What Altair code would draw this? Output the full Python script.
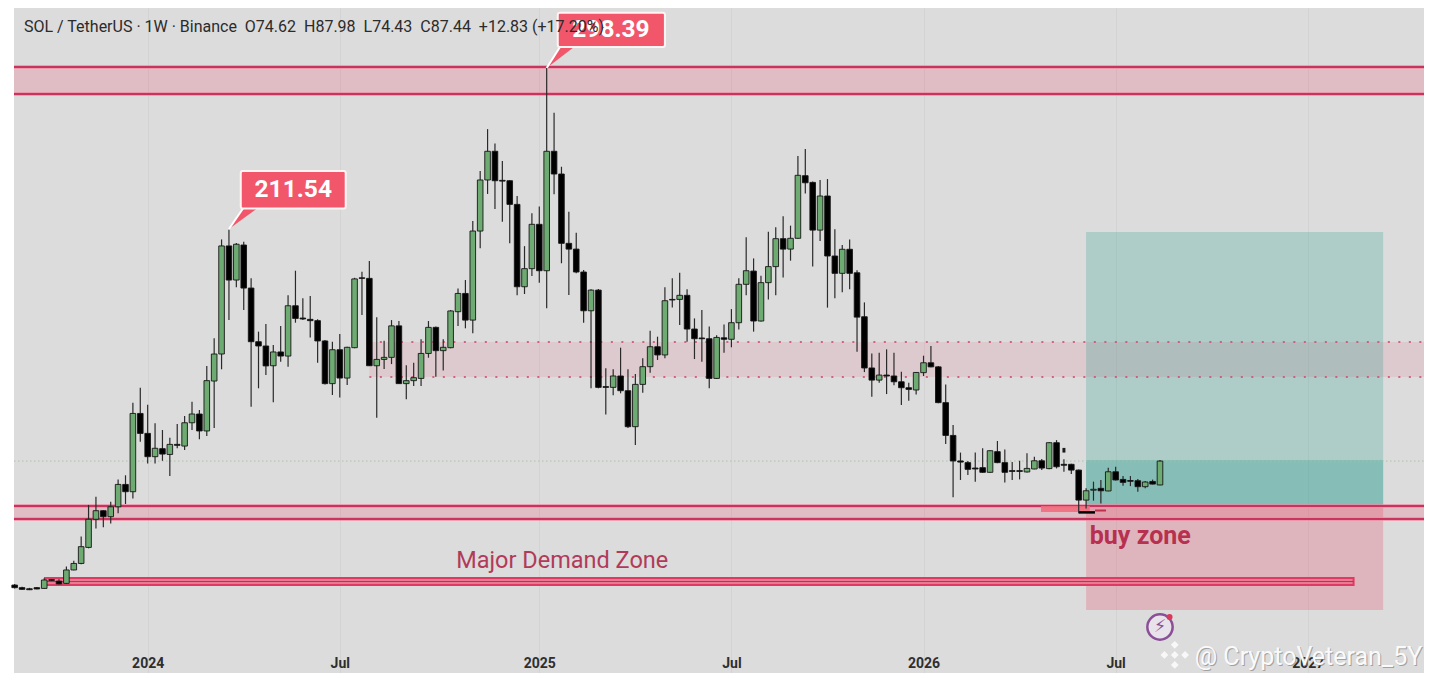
import altair as alt
import pandas as pd

OPEN = [20.9,19.5,18.9,19.5,19.1,23.8,23,21.8,29,32.5,
41.1,56.2,60.8,57.6,62.9,74.9,71,113,102.3,89.8,
94.1,91,96.4,95.5,108,112.7,103.6,130.4,144.9,202.9,
184.6,203.4,180.3,151.5,149.2,138.6,146,143.8,170.8,164.2,
163.5,162.8,151.9,129,147.2,132,148.3,185.8,185.5,138.6,
142,143.1,160,129,130.6,131.8,145.2,159.2,146.7,148.3,
167.6,177.4,163.1,210.9,238.3,253.7,238.1,237.9,225.2,181,
190.7,214.5,189.6,253.7,241.5,204.3,201.2,188.9,168.1,179.2,
127.4,127,133.1,125.2,105.9,128.6,138.1,148.8,144.4,174.2,
174.2,176.4,158.3,153.5,153.1,131.8,153.6,152.8,161.7,182.3,
189.4,162.6,183.2,191.8,206.8,201.2,207,240.6,237,211.4,
229.7,197.5,188.2,201.1,188.5,164.9,137.4,130.9,133.6,133.1,
130,126.8,125.6,134.9,140.2,138,118.8,101.2,87.5,86.6,
83.7,83.9,81.4,92.5,86.6,82.3,82.3,81.6,83.2,87.6,
83.4,97.3,85.7,85.7,82.6,66.5,71.8,72.8,71.4,81.7,
77.6,77,76.9,73.7,76.5,74.62]
HIGH = [21.5,20,19.4,19.8,24.5,24.2,24,30.8,34,47,
63.9,68.3,61,65.6,77.6,79.8,118.8,126.8,117.7,107.7,
104.1,100,107.3,111.6,119.3,114.9,138.5,153.3,206.4,211.54,
204.5,205.2,185.5,156.9,161,149.7,159.9,176.5,189.6,174.8,
176,163.5,152.4,151.5,155.6,148.8,185.8,189,194.8,164.6,
152,163.1,162.6,138.8,140.2,152.8,162.6,159.6,152.8,168.5,
180.1,184.6,216.3,243.1,265.6,257.9,248.5,238.2,229.7,202.8,
220.4,224,298.39,274.4,245.4,221.3,210,190,179.6,179.8,
137.2,136.7,148.3,136.7,134.2,142.6,157.4,154.2,180.7,185.5,
188.5,179.6,164,168.5,159.6,155,160.8,169,185.5,207.5,
196.2,186.9,210.5,212.9,218.9,213.8,251.2,254.9,237.5,238.3,
238.8,211.8,203.4,206.4,189.9,172.6,145.2,145.6,147.4,145.6,
135.4,129.5,135.2,144,149.2,138.5,128.6,106.8,92,87.5,
92,94.3,93.2,98.2,93.7,87,87.6,91.6,89.8,88.5,
97.6,98.7,88.4,86,82.9,72.8,76.4,77.3,83.9,84.4,
79.4,79.4,77.8,76.8,77.5,87.98]
LOW = [19,18.4,18.2,18.6,19,23.2,21.3,21.5,28.8,32,
40.6,51.3,51.9,54,59.4,64.4,67.4,97.8,86.2,86.2,
87.6,79.4,94.3,93.4,104.1,99.1,100.9,105.2,136.7,163.1,
180.7,168.5,116.6,126.5,133.6,119,140.8,138,161.7,163.1,
153.8,140.2,128.5,122.9,121.6,128.3,148,165.8,138.4,110.7,
136.8,139.5,128.8,120.6,127.7,127.7,142.9,132.7,136,148,
159.9,158.7,156,201.6,230.8,222.7,215.9,204.3,176.4,177.1,
186.7,183.2,169.4,230.6,193.6,176.6,188.2,161.7,126.5,126.5,
112.5,122.7,123.8,105.2,96,124.1,134.9,141.7,142.6,169.9,
160.5,151.5,142.2,140.8,126.5,131.5,145.6,148.5,158.1,176.5,
156.9,162.3,174.2,176.5,186,195,206.8,231.1,191.8,205.5,
169.8,174.8,178,179.6,146.1,135.2,122,129.5,123.4,128.2,
117.5,119.8,123.2,133.1,137.8,118.5,96.6,68,77.3,80,
76.4,81.2,81.2,86.3,76,77.3,77.6,81.3,83,82.6,
83.1,83.5,81.7,80.5,59.4,62,66.2,64.7,71.2,77,
74.2,74,71,72.8,74.9,74.43]
CLOSE = [19.5,18.6,18.4,18.8,23.6,23.4,21.5,29,32.5,41.5,
56.2,60.8,57.6,62.9,74.9,71,113,102.3,89.8,94.3,
91.2,96.4,95.9,108,112.7,103.6,130.6,144.9,202.9,184.6,
203.8,180.3,151.5,149.2,138.5,146,143.8,170.8,164,163.7,
162.8,151.9,129,147.2,132,148.5,185.2,185.5,138.6,142,
143.1,160,129,130.6,132.2,145.2,159.2,146.7,148.5,168,
177.4,163.1,210.9,238.3,253.7,237.9,237.7,225.2,181,190.7,
214.5,189.6,253.7,241.5,204.3,201.2,188.9,168.1,179.2,127,
127,133.1,125.2,105.9,128.6,138.1,148.8,144.4,173.5,173.9,
176.4,158.3,153.1,153.1,131.8,153.8,152.8,161.7,182.3,189.6,
162.6,183.2,191.8,206.8,201.2,207,240.8,236.8,211.4,229.7,
197.5,188.2,201.1,188.2,164.7,137.4,130.9,133.6,133.1,130,
126.8,125.9,135,140.2,138,118.8,101.2,87.5,86.9,83,
83.2,81.4,93,86.6,81.4,81.9,81.9,83.5,87.6,83.7,
97.3,84.4,85.2,82.6,66.5,71.5,72.3,71.5,81.7,77.3,
76,76.6,73.7,76.2,75.1,87.44]

TICK_WEEKS = [18, 44, 71, 97, 123, 149, 175]
TICK_LABELS = ["2024", "Jul", "2025", "Jul", "2026", "Jul", "2027"]
GRID_PRICES = list(range(0, 326, 25))

X_DOMAIN = [-0.09, 190.73]
Y_DOMAIN = [-26.3, 330.6]
HEADER = "SOL / TetherUS · 1W · Binance\u00a0\u00a0O74.62\u00a0\u00a0H87.98\u00a0\u00a0L74.43\u00a0\u00a0C87.44\u00a0\u00a0+12.83 (+17.20%)"

CRIMSON = "#c9345f"
candles = pd.DataFrame({
    "week": range(len(OPEN)), "open": OPEN, "high": HIGH, "low": LOW, "close": CLOSE,
})
candles["up"] = candles["close"] >= candles["open"]

label_expr = "".join(f"datum.value == {w} ? '{t}' : " for w, t in zip(TICK_WEEKS, TICK_LABELS)) + "''"
y_scale = alt.Scale(domain=Y_DOMAIN, nice=False, zero=False)

x = alt.X("week:Q", scale=alt.Scale(domain=X_DOMAIN, nice=False, zero=False, padding=0), title=None,
          axis=alt.Axis(values=TICK_WEEKS, grid=True, gridColor="#d3d3d3", gridWidth=1,
                        domain=False, ticks=False, labelPadding=-17, labelFontSize=14,
                        labelFont="Roboto", labelColor="#2e2e2e",
                        labelFontWeight=alt.expr("datum.label == 'Jul' ? 'normal' : 'bold'"),
                        labelExpr=label_expr))
y = alt.Y("price:Q", scale=y_scale, title=None,
          axis=alt.Axis(values=GRID_PRICES, grid=True, gridColor="#d3d3d3", gridWidth=1,
                        domain=False, ticks=False, labels=False))


def rect_layer(rows, **mark):
    d = pd.DataFrame(rows, columns=["week", "week2", "price", "price2"])
    return alt.Chart(d).mark_rect(clip=True, **mark).encode(
        x=x, x2="week2:Q", y=y, y2="price2:Q")


def hline(rows, **mark):
    d = pd.DataFrame(rows, columns=["week", "week2", "price"])
    return alt.Chart(d).mark_rule(clip=True, **mark).encode(x=x, x2="week2:Q", y=y)


def label(rows, **mark):
    d = pd.DataFrame(rows, columns=["week", "price", "text"])
    return alt.Chart(d).mark_text(**mark).encode(x=x, y=y, text="text:N")


L, R = X_DOMAIN
layers = [
    # zones
    rect_layer([[L, R, 284.4, 298.9]], fill="#f03c64", opacity=0.2),
    rect_layer([[L, R, 56.3, 63.3]], fill="#f03c64", opacity=0.2),
    rect_layer([[48, R, 132.6, 151.3]], fill="#f03c64", opacity=0.11),
    # position tool
    rect_layer([[145, 185.2, 63.8, 210.4]], fill="#2a9d8f", opacity=0.26),
    rect_layer([[145, 185.2, 63.8, 88]], fill="#2a9d8f", opacity=0.3),
    rect_layer([[145, 185.2, 7.5, 63.8]], fill="#e8405f", opacity=0.25),
    # band lines
    hline([[L, R, 298.9], [L, R, 284.4], [L, R, 63.3], [L, R, 56.3]], stroke="#f08aa4", strokeWidth=4, opacity=0.7),
    hline([[L, R, 298.9], [L, R, 284.4], [L, R, 63.3], [L, R, 56.3]], stroke=CRIMSON, strokeWidth=2),
    hline([[48, R, 151.3], [48, R, 132.6]], stroke="#d0506e", strokeWidth=2, strokeDash=[2, 8.5], opacity=0.85),
    hline([[L, R, 87.44]], stroke="#a5c4a5", strokeWidth=1, strokeDash=[1.5, 2.5]),
    # major demand zone
    rect_layer([[4.1, 181.2, 20.9, 24.7]], fill="#e87a92", stroke="#de3a63", strokeWidth=2),
    hline([[4.1, 181.2, 22.8]], stroke="#b5345a", strokeWidth=1),
    # buy mark
    rect_layer([[138.9, 145.5, 60.1, 63.3]], fill="#ef6c80", opacity=0.9),
    hline([[144, 146.2, 59.9]], stroke="#000000", strokeWidth=2.5),
    hline([[146.2, 147.7, 60.9]], stroke="#c0304c", strokeWidth=2),
]

# candles
wick = alt.Chart(candles).mark_rule(stroke="#2a2a2a", strokeWidth=1.2).encode(
    x=x, y=alt.Y("low:Q", scale=y_scale, title=None, axis=None), y2="high:Q")
body = alt.Chart(candles).mark_bar(size=5.6, stroke="#161616", strokeWidth=0.9).encode(
    x=x, y=alt.Y("open:Q", scale=y_scale, title=None, axis=None), y2="close:Q",
    fill=alt.condition("datum.up", alt.value("#6dab72"), alt.value("#000000")))
layers += [wick, body]

# stray blot above the flat stretch
layers.append(rect_layer([[141.8, 142.2, 92, 94.5]], fill="#1a1a1a"))


# price callouts
def callout(tip_w, tip_p, base_a, base_b, base_p, box):
    tri = pd.DataFrame({"week": [tip_w, base_a], "week2": [tip_w, base_b], "price": [tip_p, base_p]})
    edge = pd.DataFrame({"week": [tip_w, base_a], "price": [tip_p, base_p]})
    return [
        alt.Chart(tri).mark_area(orient="horizontal", fill="#f2566a").encode(x=x, x2="week2:Q", y=y),
        alt.Chart(edge).mark_line(stroke="#ffffff", strokeWidth=2).encode(x=x, y=y),
        rect_layer([box], fill="#f2566a", stroke="#fff4f4", strokeWidth=2, cornerRadius=2),
    ]


layers += callout(29, 212, 30.9, 32.8, 223, [30.6, 44.8, 223, 243.1])
layers += callout(72, 298.4, 73.8, 75.7, 309.7, [73.5, 88, 309.7, 328])
layers += [
    label([[37.7, 233, "211.54"]], color="#ffffff", fontSize=24.5, fontWeight="bold", font="Roboto"),
    label([[80.7, 318.7, "298.39"]], color="#ffffff", fontSize=24.5, fontWeight="bold", font="Roboto"),
    label([[1.26, 320.4, HEADER]], color="#2b2b2b", fontSize=16, align="left", font="Roboto"),
    label([[74.1, 33.8, "Major Demand Zone"]], color="#b13a5b", fontSize=23.5, font="Roboto"),
    label([[145.5, 47.2, "buy zone"]], color="#b8304f", fontSize=25, fontWeight="bold", align="left", font="Roboto"),
]

# flash badge
layers += [
    alt.Chart(pd.DataFrame({"week": [155], "price": [-1.6]})).mark_point(
        filled=True, size=640, fill="#e8e2ea", stroke="#8a4f97", strokeWidth=2.5, shape="circle", opacity=1).encode(x=x, y=y),
    label([[155, -1.6, "⚡"]], color="#8a4f97", fontSize=18, font="DejaVu Sans"),
    alt.Chart(pd.DataFrame({"week": [156.3], "price": [3.7]})).mark_point(
        filled=True, size=36, color="#d93a5c", opacity=1).encode(x=x, y=y),
]

# watermark
marks = pd.DataFrame({"week": [157, 155.6, 158.4, 157, 157], "price": [-11.2, -16.6, -16.6, -22, -16.6]})
layers += [
    alt.Chart(marks).mark_point(filled=True, shape="diamond", size=60, color="#f8f8f8", opacity=1).encode(x=x, y=y),
    label([[159.7, -17.7, "@ CryptoVeteran_5Y"]], color="#7a7a7a", fontSize=25, align="left", font="Roboto", dx=1, dy=1, opacity=0.6),
    label([[159.7, -17.7, "@ CryptoVeteran_5Y"]], color="#fafafa", fontSize=25, align="left", font="Roboto"),
]

chart = alt.layer(*layers).properties(
    width=1410, height=665,
    padding={"left": 6, "top": 0, "right": 0, "bottom": 0},
    autosize=alt.AutoSizeParams(type="none"),
    background="#ffffff",
).configure_view(fill="#dcdcdc", stroke=None)

chart.save("out.html", embed_options={"renderer": "svg", "actions": False})
